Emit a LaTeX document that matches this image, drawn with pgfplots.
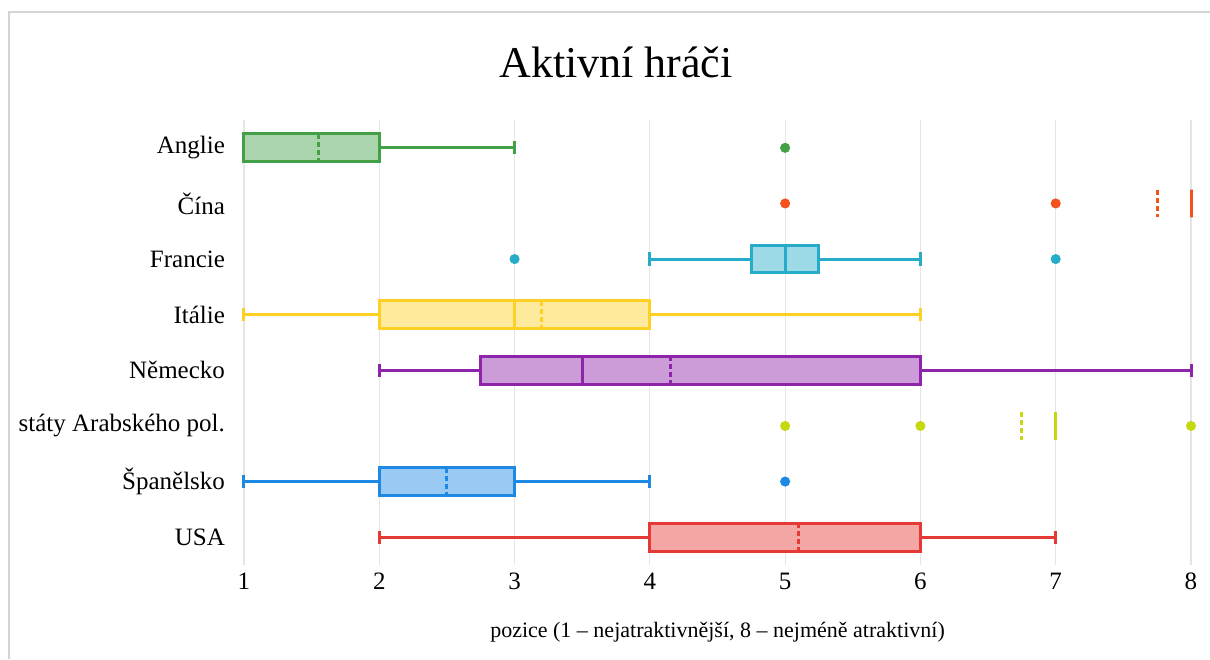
\documentclass[border=0pt]{standalone}
\usepackage{fontspec}
\setmainfont{Liberation Serif}
\usepackage{pgfplots}
\pgfplotsset{compat=1.18}
\usepgfplotslibrary{statistics}

\definecolor{cGreen}{HTML}{43A047}
\definecolor{cOrange}{HTML}{F4511E}
\definecolor{cCyan}{HTML}{26ACC8}
\definecolor{cYellow}{HTML}{FDD023}
\definecolor{cPurple}{HTML}{8E24AA}
\definecolor{cLime}{HTML}{C6D80F}
\definecolor{cBlue}{HTML}{1E88E5}
\definecolor{cRed}{HTML}{E53935}

\pgfplotsset{
  bx/.style={draw=#1, fill=#1!45!white, line width=1.5pt, solid},
  mn/.style={draw=#1, line width=1.5pt, dash pattern=on 2.5pt off 1.5pt, forget plot},
  ol/.style={only marks, mark=*, mark size=2.3pt, color=#1, forget plot},
}

\begin{document}
\begin{tikzpicture}
\path[use as bounding box] (-122pt,-47pt) rectangle (483pt,282.5pt);
\draw[line width=1pt, color=black!17] (-117.5pt,-47pt) -- (-117.5pt,276.5pt) -- (483pt,276.5pt);
\begin{axis}[
  at={(0pt,0pt)}, anchor=south west,
  width=473.5pt, height=222.5pt, scale only axis,
  xmin=1, xmax=8, ymin=0.5, ymax=8.5,
  y dir=reverse,
  xtick={1,...,8},
  ytick={1,...,8},
  yticklabels={Anglie,Čína,Francie,Itálie,Německo,státy Arabského pol.,Španělsko,USA},
  xmajorgrids,
  grid style={color=black!10, line width=0.6pt},
  axis line style={draw=none},
  major tick length=0pt,
  tick label style={font=\fontsize{12.5}{14}\selectfont},
  xticklabel style={yshift=-0.5pt},
  yticklabel style={xshift=-6pt},
  /pgf/number format/assume math mode=true,
  clip=false,
  boxplot/box extend=0.5,
  boxplot/whisker extend=0.24,
  boxplot/every whisker/.style={line width=1.5pt},
  boxplot/every median/.style={line width=1.5pt},
]
% Anglie
\addplot[bx=cGreen, boxplot prepared={draw position=1,
  lower whisker=1, lower quartile=1, median=1, upper quartile=2, upper whisker=3}]
  coordinates {};
\addplot[mn=cGreen] coordinates {(1.55,0.75) (1.55,1.25)};
\addplot[ol=cGreen] coordinates {(5,1)};
% Cina
\addplot[bx=cOrange, boxplot prepared={draw position=2,
  lower whisker=8, lower quartile=8, median=8, upper quartile=8, upper whisker=8}]
  coordinates {};
\addplot[mn=cOrange] coordinates {(7.75,1.75) (7.75,2.25)};
\addplot[ol=cOrange] coordinates {(5,2) (7,2)};
% Francie
\addplot[bx=cCyan, boxplot prepared={draw position=3,
  lower whisker=4, lower quartile=4.75, median=5, upper quartile=5.25, upper whisker=6}]
  coordinates {};
\addplot[ol=cCyan] coordinates {(3,3) (7,3)};
% Italie
\addplot[bx=cYellow, boxplot prepared={draw position=4,
  lower whisker=1, lower quartile=2, median=3, upper quartile=4, upper whisker=6}]
  coordinates {};
\addplot[mn=cYellow] coordinates {(3.2,3.75) (3.2,4.25)};
% Nemecko
\addplot[bx=cPurple, boxplot prepared={draw position=5,
  lower whisker=2, lower quartile=2.75, median=3.5, upper quartile=6, upper whisker=8}]
  coordinates {};
\addplot[mn=cPurple] coordinates {(4.15,4.75) (4.15,5.25)};
% staty Arabskeho pol.
\addplot[bx=cLime, boxplot prepared={draw position=6,
  lower whisker=7, lower quartile=7, median=7, upper quartile=7, upper whisker=7}]
  coordinates {};
\addplot[mn=cLime] coordinates {(6.75,5.75) (6.75,6.25)};
\addplot[ol=cLime] coordinates {(5,6) (6,6) (8,6)};
% Spanelsko
\addplot[bx=cBlue, boxplot prepared={draw position=7,
  lower whisker=1, lower quartile=2, median=2, upper quartile=3, upper whisker=4}]
  coordinates {};
\addplot[mn=cBlue] coordinates {(2.5,6.75) (2.5,7.25)};
\addplot[ol=cBlue] coordinates {(5,7)};
% USA
\addplot[bx=cRed, boxplot prepared={draw position=8,
  lower whisker=2, lower quartile=4, median=6, upper quartile=6, upper whisker=7}]
  coordinates {};
\addplot[mn=cRed] coordinates {(5.1,7.75) (5.1,8.25)};
\end{axis}
\node[font=\fontsize{22}{26}\selectfont] at (186pt,251.5pt) {Aktivní hráči};
\node[font=\fontsize{11}{13}\selectfont] at (236.75pt,-33.5pt) {pozice (1 – nejatraktivnější, 8 – nejméně atraktivní)};
\end{tikzpicture}
\end{document}
